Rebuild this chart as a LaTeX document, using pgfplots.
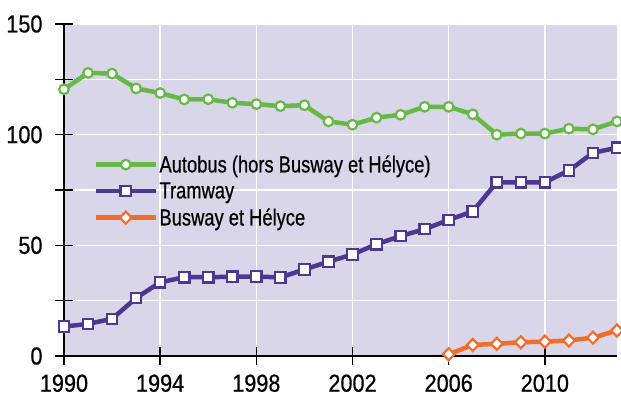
\documentclass[border=0pt]{standalone}
\usepackage{fontspec}
\setmainfont{Liberation Sans}[FakeStretch=0.79, FakeBold=0.6]
\newfontfamily\numfont{Liberation Sans}[FakeStretch=0.88, FakeBold=0.6]
\usepackage{pgfplots}
\pgfplotsset{compat=1.18}
\definecolor{bgc}{RGB}{218,214,233}
\definecolor{grn}{RGB}{102,185,70}
\definecolor{prp}{RGB}{76,55,145}
\definecolor{org}{RGB}{240,110,40}
\begin{document}
\begin{tikzpicture}[x=1bp,y=1bp]
\begin{axis}[
  set layers,
  scale only axis,
  width=553bp, height=332bp,
  xmin=1990, xmax=2013, ymin=0, ymax=150,
  axis x line*=bottom, axis y line*=left,
  axis line style={line width=1.6bp, black, -},
  axis background/.style={fill=bgc},
  xtick={1990,1994,...,2010},
  ytick={0,50,100,150},
  minor ytick={25,75,125},
  grid=both,
  major grid style={white, line width=1.5bp},
  minor grid style={white, line width=1.5bp},
  tick style={black, line width=1.6bp},
  major tick length=18bp, minor tick length=18bp,
  tick align=center,
  xticklabel style={/pgf/number format/1000 sep={}},
  /pgf/number format/assume math mode=true,
  ticklabel style={font=\numfont\fontsize{24.7}{26}\selectfont},
  yticklabel style={xshift=-9bp},
  xticklabel style={yshift=-6bp},
  legend style={draw=none, fill=none, at={(0.053,0.611)}, anchor=north west,
    font=\fontsize{23.3}{25}\selectfont, row sep=4.5bp,
    nodes={inner xsep=1.5bp}, cells={anchor=west}, inner sep=0pt},
  legend image code/.code={
    \draw[mark repeat=2, mark phase=2] plot coordinates {(0bp,0bp) (30bp,0bp) (60bp,0bp)};
  },
  clip=false,
]
\addplot[grn, line width=4.5bp, mark=*, mark size=4.8bp,
  mark options={fill=white, draw=grn, line width=2.2bp}] coordinates {
(1990,120.5)(1991,127.9)(1992,127.6)(1993,120.9)(1994,118.8)(1995,115.9)(1996,116.0)
(1997,114.4)(1998,113.8)(1999,112.9)(2000,113.3)(2001,106.0)(2002,104.5)(2003,107.7)
(2004,109.0)(2005,112.6)(2006,112.6)(2007,109.2)(2008,100.0)(2009,100.5)(2010,100.5)
(2011,102.7)(2012,102.4)(2013,106.0)};
\addlegendentry{Autobus (hors Busway et Hélyce)}
\addplot[prp, line width=4.5bp, mark=square*, mark size=5.2bp,
  mark options={fill=white, draw=prp, line width=2.2bp}] coordinates {
(1990,13.3)(1991,14.5)(1992,16.8)(1993,26.2)(1994,33.3)(1995,35.6)(1996,35.6)
(1997,35.8)(1998,35.9)(1999,35.5)(2000,39.1)(2001,42.6)(2002,45.9)(2003,50.5)
(2004,54.2)(2005,57.3)(2006,61.5)(2007,65.3)(2008,78.5)(2009,78.5)(2010,78.5)
(2011,83.8)(2012,91.8)(2013,94.1)};
\addlegendentry{Tramway}
\addplot[org, line width=4.5bp, mark=diamond*, mark size=6bp,
  mark options={fill=white, draw=org, line width=2.2bp, xscale=1.3}] coordinates {
(2006,0.8)(2007,5.0)(2008,5.5)(2009,6.2)(2010,6.5)(2011,7.0)(2012,8.3)(2013,11.5)};
\addlegendentry{Busway et Hélyce}
\end{axis}
\pgfresetboundingbox
\path (current axis.south west) ++(-64bp,-45bp) rectangle ++(621bp,401bp);
\end{tikzpicture}
\end{document}
